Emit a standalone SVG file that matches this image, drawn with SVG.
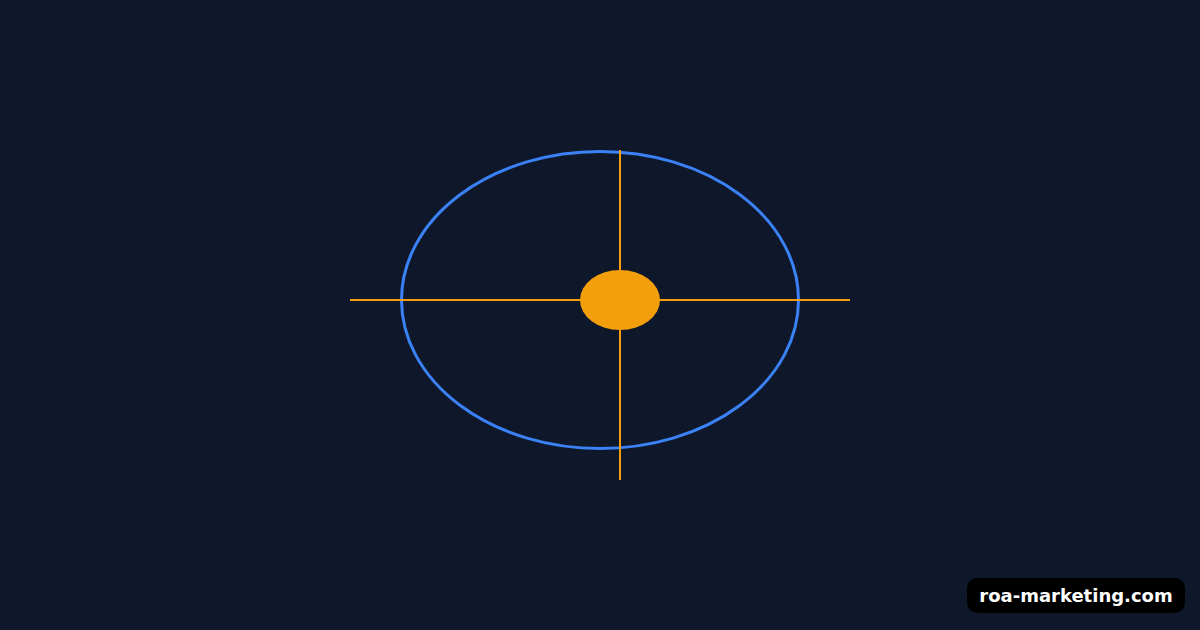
<svg xmlns="http://www.w3.org/2000/svg" width="1200" height="630" viewBox="0 0 1200 630">
<style>
.axis{stroke:#f59e0b;stroke-width:2;fill:none}
.orbit{stroke:#3b82f6;stroke-width:3;fill:none}
.badge-text{font-family:"DejaVu Sans",sans-serif;font-weight:bold;font-size:18px;fill:#ffffff}
</style>
<rect width="1200" height="630" fill="#0f172a"/>
<g id="orbit"><ellipse class="orbit" cx="600" cy="300" rx="198.5" ry="148.5"/></g>
<g id="connectors">
<line class="axis" x1="350" y1="300" x2="850" y2="300"/>
<line class="axis" x1="620" y1="150" x2="620" y2="480"/>
</g>
<g id="core"><ellipse cx="620" cy="300" rx="40" ry="30" fill="#f59e0b"/></g>
<g id="badge">
<rect x="967" y="578" width="218" height="35" rx="10" fill="#000000"/>
<text class="badge-text" x="1076" y="602" text-anchor="middle">roa-marketing.com</text>
</g>
</svg>
